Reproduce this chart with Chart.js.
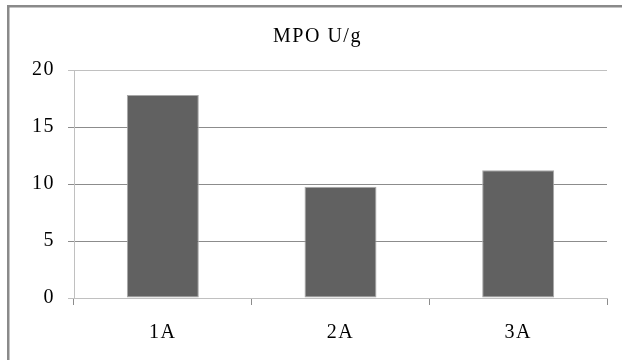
<!DOCTYPE html>
<html>
<head>
<meta charset="utf-8">
<script src="https://cdn.jsdelivr.net/npm/chart.js@4"></script>
<style>
  html, body { margin: 0; padding: 0; background: #fff; }
  canvas { display: block; }
</style>
</head>
<body>
<canvas id="c" width="622" height="360"></canvas>
<script>
// Groups and measured MPO activity
const categories = ['1A', '2A', '3A'];
const mpoValues = [17.8, 9.75, 11.2];
const yTicks = [0, 5, 10, 15, 20];
const chartTitle = 'MPO U/g';

const serif = "Liberation Serif, Times New Roman, serif";
const spacing = '1.5px';

// Widened glyph spacing and the grey frame along the top and left edges
const framePlugin = {
  id: 'frame',
  beforeLayout(chart) { chart.ctx.letterSpacing = spacing; },
  beforeDraw(chart) {
    const ctx = chart.ctx;
    ctx.letterSpacing = spacing;
    ctx.save();
    ctx.fillStyle = '#8a8a8a';
    ctx.fillRect(7, 5, 2.5, chart.height - 5);
    ctx.fillRect(7, 5, chart.width - 7, 2.5);
    ctx.restore();
  }
};

new Chart(document.getElementById('c'), {
  type: 'bar',
  data: {
    labels: categories,
    datasets: [{
      data: mpoValues,
      backgroundColor: '#616161',
      borderColor: '#a8a8a8',
      borderWidth: 1,
      borderSkipped: false,
      categoryPercentage: 1,
      barPercentage: 0.405
    }]
  },
  plugins: [framePlugin],
  options: {
    responsive: false,
    animation: false,
    layout: { padding: { left: 28, right: 15, top: 0, bottom: 0 } },
    plugins: {
      legend: { display: false },
      tooltip: { enabled: false },
      title: {
        display: true,
        text: chartTitle,
        color: '#000',
        font: { family: serif, size: 20, weight: 'normal', lineHeight: 1.2 },
        padding: { top: 24.5, bottom: 21.5 }
      }
    },
    scales: {
      x: {
        offset: true,
        afterFit: s => { s.height = 62; },
        grid: { offset: true, drawOnChartArea: false, drawTicks: true, tickLength: 7, color: '#8c8c8c' },
        border: { color: '#c0c0c0', width: 1 },
        ticks: { color: '#000', padding: 16, font: { family: serif, size: 20 } }
      },
      y: {
        min: 0, max: 20,
        afterFit: s => { s.width = 46; },
        afterBuildTicks: s => { s.ticks = yTicks.map(v => ({ value: v })); },
        grid: {
          tickLength: 6,
          color: ctx => (ctx.tick && (ctx.tick.value === 0 || ctx.tick.value === 20)) ? '#c0c0c0' : '#8c8c8c'
        },
        border: { color: '#c0c0c0', width: 1 },
        ticks: { color: '#000', padding: 13, font: { family: serif, size: 20 } }
      }
    }
  }
});
</script>
</body>
</html>
